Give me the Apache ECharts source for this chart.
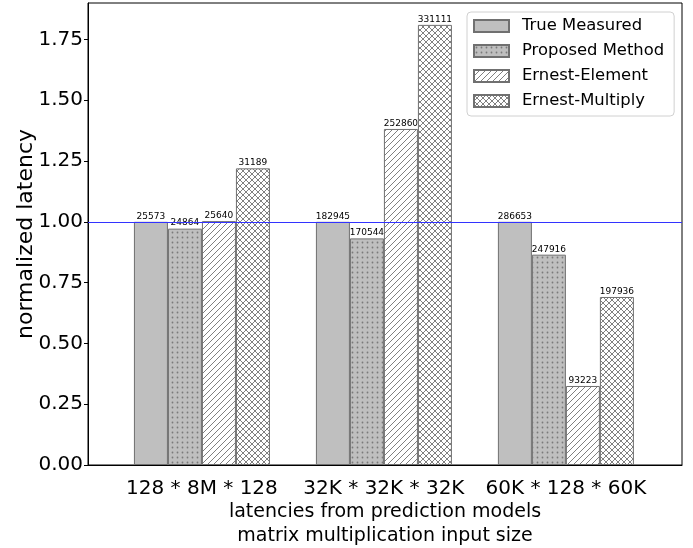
<!DOCTYPE html>
<html>
<head>
<meta charset="utf-8">
<script src="https://cdn.jsdelivr.net/npm/echarts@6/dist/echarts.min.js"></script>
<style>
    html, body { margin: 0; padding: 0; background: #fff; }
    #chart { width: 693px; height: 548px; }
</style>
</head>
<body>
<div id="chart"></div>
<script>
const categories = ['128 * 8M * 128', '32K * 32K * 32K', '60K * 128 * 60K'];
const seriesNames = ['True Measured', 'Proposed Method', 'Ernest-Element', 'Ernest-Multiply'];

// normalized latency (bar heights)
const trueMeasured = [1.000, 1.000, 1.000];
const proposedMethod = [0.972, 0.932, 0.865];
const ernestElement = [1.003, 1.382, 0.325];
const ernestMultiply = [1.220, 1.810, 0.691];

// raw latencies printed above the bars
const trueRaw = [25573, 182945, 286653];
const proposedRaw = [24864, 170544, 247916];
const elementRaw = [25640, 252860, 93223];
const multiplyRaw = [31189, 331111, 197936];

const yTicks = [0, 0.25, 0.5, 0.75, 1.0, 1.25, 1.5, 1.75];

const FONT = 'DejaVu Sans';
const EDGE = '#707070';

function makePattern(size, bg, draw) {
    const c = document.createElement('canvas');
    c.width = size;
    c.height = size;
    const ctx = c.getContext('2d');
    ctx.fillStyle = bg;
    ctx.fillRect(0, 0, size, size);
    draw(ctx, size);
    return { image: c, repeat: 'repeat' };
}

const solidFill = '#bfbfbf';
const dotFill = makePattern(5, '#bfbfbf', (ctx) => {
    ctx.fillStyle = '#7a7a7a';
    ctx.beginPath();
    ctx.arc(2.5, 2.5, 0.9, 0, Math.PI * 2);
    ctx.fill();
});
const slashFill = makePattern(6, '#ffffff', (ctx, s) => {
    ctx.strokeStyle = '#808080';
    ctx.lineWidth = 1;
    ctx.beginPath();
    ctx.moveTo(-1, s + 1); ctx.lineTo(s + 1, -1);
    ctx.moveTo(-1, 1); ctx.lineTo(1, -1);
    ctx.moveTo(s - 1, s + 1); ctx.lineTo(s + 1, s - 1);
    ctx.stroke();
});
const crossFill = makePattern(6, '#ffffff', (ctx, s) => {
    ctx.strokeStyle = '#808080';
    ctx.lineWidth = 1;
    ctx.beginPath();
    ctx.moveTo(-1, s + 1); ctx.lineTo(s + 1, -1);
    ctx.moveTo(-1, 1); ctx.lineTo(1, -1);
    ctx.moveTo(s - 1, s + 1); ctx.lineTo(s + 1, s - 1);
    ctx.moveTo(-1, -1); ctx.lineTo(s + 1, s + 1);
    ctx.moveTo(s - 1, -1); ctx.lineTo(s + 1, 1);
    ctx.moveTo(-1, s - 1); ctx.lineTo(1, s + 1);
    ctx.stroke();
});

function barSeries(name, values, raw, fill) {
    return {
        name: name,
        type: 'bar',
        barWidth: 34,
        barGap: '0%',
        data: values.map((v, i) => [i, v]),
        itemStyle: { color: fill, borderColor: EDGE, borderWidth: 1 },
        label: {
            show: true,
            position: 'top',
            distance: 1,
            fontFamily: FONT,
            fontSize: 9,
            color: '#000',
            formatter: (p) => String(raw[p.dataIndex])
        }
    };
}

const series = [
    barSeries(seriesNames[0], trueMeasured, trueRaw, solidFill),
    barSeries(seriesNames[1], proposedMethod, proposedRaw, dotFill),
    barSeries(seriesNames[2], ernestElement, elementRaw, slashFill),
    barSeries(seriesNames[3], ernestMultiply, multiplyRaw, crossFill)
];
series[0].markLine = {
    silent: true,
    symbol: 'none',
    label: { show: false },
    lineStyle: { color: '#3333ff', type: 'solid', width: 1.2 },
    data: [{ yAxis: 1 }],
    z: 10
};

const chart = echarts.init(document.getElementById('chart'), null, { renderer: 'canvas' });
chart.setOption({
    animation: false,
    textStyle: { fontFamily: FONT },
    grid: {
        left: 88, right: 11, top: 3, bottom: 83,
        show: true, borderColor: '#000', borderWidth: 1,
        containLabel: false,
        outerBoundsMode: 'none'
    },
    legend: {
        data: seriesNames,
        orient: 'vertical',
        left: 467,
        top: 12,
        icon: 'rect',
        itemWidth: 35,
        itemHeight: 12,
        itemGap: 9,
        padding: [6, 10, 7, 6],
        borderColor: '#d0d0d0',
        borderWidth: 1,
        borderRadius: 4,
        backgroundColor: 'rgba(255,255,255,0.8)',
        textStyle: { fontFamily: FONT, fontSize: 16.4, color: '#000', lineHeight: 16, padding: [0, 0, 0, 8] }
    },
    xAxis: {
        type: 'value',
        min: -0.626,
        max: 2.638,
        name: 'latencies from prediction models\nmatrix multiplication input size',
        nameLocation: 'middle',
        nameGap: 35,
        nameMoveOverlap: false,
        nameTextStyle: { fontFamily: FONT, fontSize: 19, color: '#000', lineHeight: 24 },
        axisLine: { show: true, onZero: false, lineStyle: { color: '#000', width: 1 } },
        axisTick: { show: false },
        splitLine: { show: false },
        axisLabel: {
            customValues: [0, 1, 2],
            formatter: (v) => categories[Math.round(v)],
            fontFamily: FONT,
            fontSize: 20,
            color: '#000',
            margin: 14
        }
    },
    yAxis: {
        type: 'value',
        min: 0,
        max: 1.9,
        name: 'normalized latency',
        nameLocation: 'middle',
        nameGap: 51,
        nameMoveOverlap: false,
        nameTextStyle: { fontFamily: FONT, fontSize: 22, color: '#000' },
        axisLine: { show: true, onZero: false, lineStyle: { color: '#000', width: 1 } },
        axisTick: {
            show: true, length: 4, lineStyle: { color: '#000' },
            customValues: yTicks
        },
        splitLine: { show: false },
        axisLabel: {
            customValues: yTicks,
            formatter: (v) => v.toFixed(2),
            fontFamily: FONT,
            fontSize: 20,
            color: '#000',
            margin: 5
        }
    },
    series: series
});
</script>
</body>
</html>
